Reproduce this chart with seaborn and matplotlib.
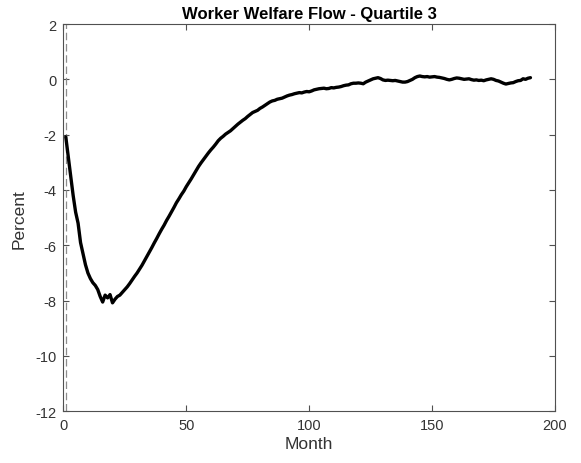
import numpy as np
import pandas as pd
import matplotlib
matplotlib.use("Agg")
import matplotlib.pyplot as plt
import seaborn as sns

# Monthly welfare flow response (percent), months 1..190
months = list(range(1, 191))
welfare = [
    -2.08, -2.80, -3.50, -4.20, -4.80, -5.20, -5.90, -6.30, -6.70, -7.00,
    -7.20, -7.35, -7.45, -7.60, -7.85, -8.05, -7.80, -7.90, -7.78, -8.08,
    -7.95, -7.85, -7.80, -7.70, -7.60, -7.50, -7.38, -7.25, -7.12, -7.00,
    -6.86, -6.72, -6.56, -6.40, -6.24, -6.08, -5.91, -5.75, -5.58, -5.42,
    -5.27, -5.10, -4.95, -4.79, -4.63, -4.46, -4.32, -4.17, -4.04, -3.88,
    -3.74, -3.60, -3.45, -3.30, -3.15, -3.02, -2.90, -2.78, -2.66, -2.55,
    -2.45, -2.34, -2.22, -2.13, -2.06, -1.98, -1.92, -1.86, -1.78, -1.70,
    -1.62, -1.55, -1.48, -1.42, -1.34, -1.27, -1.20, -1.16, -1.12, -1.05,
    -1.00, -0.94, -0.88, -0.82, -0.78, -0.76, -0.72, -0.70, -0.68, -0.64,
    -0.60, -0.57, -0.55, -0.52, -0.50, -0.48, -0.49, -0.46, -0.44, -0.45,
    -0.42, -0.38, -0.36, -0.34, -0.33, -0.32, -0.34, -0.33, -0.30, -0.31,
    -0.29, -0.28, -0.26, -0.23, -0.21, -0.20, -0.16, -0.14, -0.14, -0.13,
    -0.14, -0.16, -0.10, -0.06, -0.02, 0.02, 0.04, 0.06, 0.03, -0.02,
    -0.04, -0.03, -0.04, -0.05, -0.04, -0.06, -0.08, -0.10, -0.10, -0.08,
    -0.04, 0.00, 0.06, 0.10, 0.12, 0.10, 0.09, 0.10, 0.08, 0.09,
    0.10, 0.08, 0.07, 0.05, 0.03, 0.00, -0.02, 0.00, 0.03, 0.05,
    0.04, 0.02, 0.00, 0.01, 0.02, -0.01, -0.03, -0.02, -0.04, -0.03,
    -0.05, -0.02, 0.00, 0.02, 0.00, -0.04, -0.06, -0.10, -0.14, -0.17,
    -0.15, -0.13, -0.12, -0.08, -0.05, -0.04, 0.02, 0.00, 0.04, 0.06,
]
shock_month = 1

x_ticks = [0, 50, 100, 150, 200]
y_ticks = [-12, -10, -8, -6, -4, -2, 0, 2]

sns.set_style("ticks")
plt.rcParams["font.family"] = ["Liberation Sans", "DejaVu Sans"]
plt.rcParams["axes.unicode_minus"] = False

df = pd.DataFrame({"Month": months, "Percent": welfare})

fig = plt.figure(figsize=(5.81, 4.64), dpi=100)
ax = fig.add_axes([0.1090, 0.1114, 0.8463, 0.8347])

ax.axvline(shock_month, color="#8c8c8c", linestyle=(0, (6, 3)), linewidth=0.9, zorder=1)
sns.lineplot(data=df, x="Month", y="Percent", ax=ax, color="black",
             linewidth=2.4, zorder=3)

ax.set_xlim(0, 200)
ax.set_ylim(-12, 2)
ax.set_xticks(x_ticks)
ax.set_yticks(y_ticks)

spine_col = "#505050"
for s in ax.spines.values():
    s.set_visible(True)
    s.set_color(spine_col)
    s.set_linewidth(0.8)
ax.tick_params(direction="in", length=4, width=0.8, color=spine_col,
               labelcolor="#333333", labelsize=10.5, pad=5,
               top=True, right=True)

ax.set_xlabel("Month", fontsize=12.5, color="#333333", labelpad=3)
ax.set_ylabel("Percent", fontsize=12.5, color="#333333", labelpad=6)
ax.set_title("Worker Welfare Flow - Quartile 3", fontsize=12, fontweight="bold",
             color="black", pad=4)

fig.savefig("out.png", dpi=100)
